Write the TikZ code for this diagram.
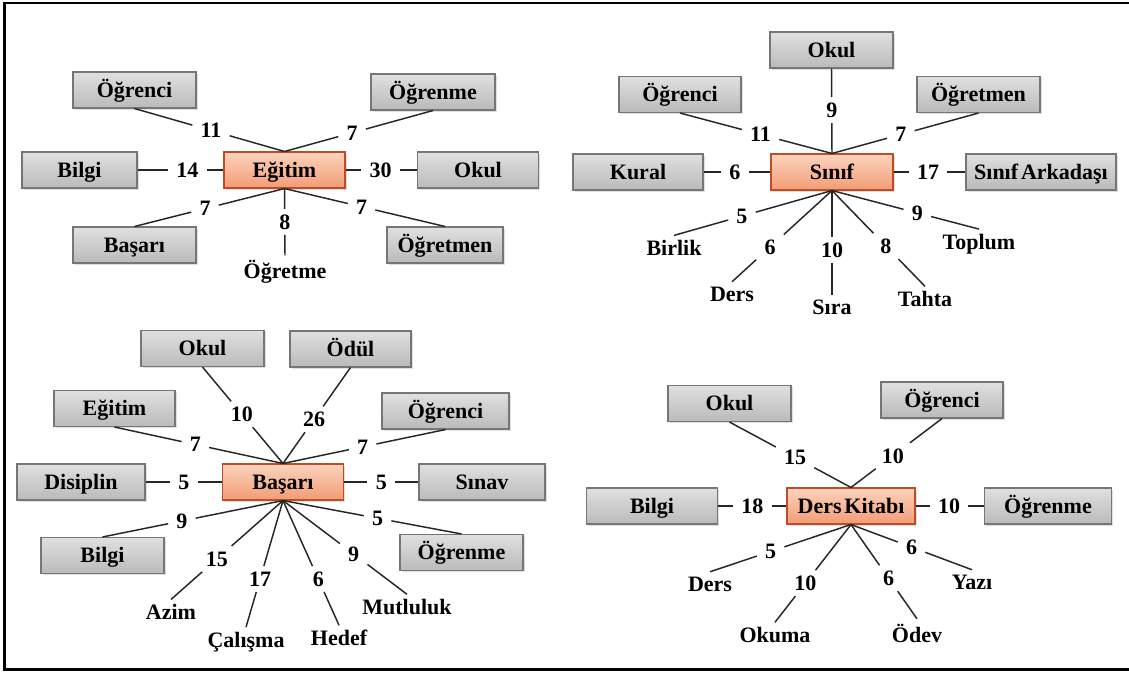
\documentclass[tikz,border=0pt]{standalone}
\usepackage{fontspec}
\setmainfont{Liberation Serif}
\usetikzlibrary{shadows}
\definecolor{gtop}{RGB}{224,224,224}
\definecolor{gbot}{RGB}{186,186,186}
\definecolor{gbrd}{RGB}{118,118,118}
\definecolor{otop}{RGB}{251,212,190}
\definecolor{obot}{RGB}{242,156,116}
\definecolor{obrd}{RGB}{190,76,40}
\newcommand\linkto[5]{\path (#1) -- (#2) node[num,pos=#3] (#4) {#5};\draw[ln] (#1) -- (#4) -- (#2);}
\begin{document}
\begin{tikzpicture}[x=0.75pt,y=-0.75pt,
 every node/.style={font=\fontsize{16.5}{19}\selectfont\bfseries},
 gbox/.style={draw=gbrd, line width=0.8pt, top color=gtop, bottom color=gbot, minimum width=92.25pt, minimum height=27pt, inner sep=1pt, text height=12.6pt, text depth=1.8pt, drop shadow={opacity=0.25,shadow xshift=1.2pt,shadow yshift=-1.2pt}},
 obox/.style={draw=obrd, line width=0.8pt, top color=otop, bottom color=obot, minimum width=91pt, minimum height=27pt, inner sep=1pt, text height=12.6pt, text depth=1.8pt, drop shadow={opacity=0.25,shadow xshift=1.2pt,shadow yshift=-1.2pt}},
 num/.style={inner xsep=6pt, inner ysep=4pt, text height=11pt, text depth=0pt},
 lbl/.style={inner sep=3.5pt},
 ln/.style={line width=1.1pt, black!85}]
\useasboundingbox (0,0) rectangle (1129,672);
\draw[line width=2pt] (1129,3) -- (4.5,3) -- (4.5,669.5) -- (1129,669.5);
% Panel 1
\node[obox, minimum width=90.75pt] (E) at (284.5,170) {Eğitim};
\node[gbox] (e1) at (134.5,90) {Öğrenci};
\node[gbox, minimum width=93pt] (e2) at (433,92) {Öğrenme};
\node[gbox, minimum width=86.25pt] (e3) at (79.5,170) {Bilgi};
\node[gbox, minimum width=90.75pt] (e4) at (478,170) {Okul};
\node[gbox] (e5) at (134.5,245) {Başarı};
\node[gbox, minimum width=87pt] (e6) at (445,245) {Öğretmen};
\node[lbl] (e7) at (285,272) {Öğretme};
\linkto{E.north}{e1.south}{.49}{m1}{11}
\linkto{E.north}{e2.south}{.455}{m2}{7}
\linkto{E.west}{e3.east}{.42}{m3}{14}
\linkto{E.east}{e4.west}{.49}{m4}{30}
\linkto{E.south}{e5.north}{.53}{m5}{7}
\linkto{E.south}{e7.north}{.5}{m6}{8}
\linkto{E.south}{e6.north}{.48}{m7}{7}
% Panel 2
\node[obox, minimum width=91.5pt] (S) at (832,172) {Sınıf};
\node[gbox] (s1) at (831.5,50) {Okul};
\node[gbox, minimum width=91.5pt] (s2) at (680,94.5) {Öğrenci};
\node[gbox] (s3) at (978.5,94.5) {Öğretmen};
\node[gbox, minimum width=97.5pt] (s4) at (638,172) {Kural};
\node[gbox, minimum width=112.5pt] (s5) at (1041,172) {Sınıf\hspace{-0.12em} Arkadaşı};
\node[lbl] (s6) at (674,248) {Birlik};
\node[lbl] (s7) at (732,294) {Ders};
\node[lbl] (s8) at (832,307) {Sıra};
\node[lbl] (s9) at (925,299) {Tahta};
\node[lbl] (s10) at (979,244) {Toplum};
\linkto{S.north}{s1.south}{.51}{p1}{9}
\linkto{S.north}{s2.south}{.47}{p2}{11}
\linkto{S.north}{s3.south}{.47}{p3}{7}
\linkto{S.west}{s4.east}{.53}{p4}{6}
\linkto{S.east}{s5.west}{.48}{p5}{17}
\linkto{S.south}{s6.north}{.57}{p6}{5}
\linkto{S.south}{s7.north}{.62}{p7}{6}
\linkto{S.south}{s8.north}{.57}{p8}{10}
\linkto{S.south}{s9.north}{.58}{p9}{8}
\linkto{S.south}{s10.north}{.58}{p10}{9}
% Panel 3
\node[obox, minimum width=90.75pt] (B) at (283,482) {Başarı};
\node[gbox] (b1) at (202.5,348.5) {Okul};
\node[gbox, minimum width=90.75pt] (b2) at (350.5,349) {Ödül};
\node[gbox, minimum width=90.75pt] (b3) at (114.5,408.5) {Eğitim};
\node[gbox, minimum width=95.25pt] (b4) at (445.5,411) {Öğrenci};
\node[gbox, minimum width=96pt] (b5) at (81,482) {Disiplin};
\node[gbox, minimum width=94.5pt] (b6) at (482,482) {Sınav};
\node[gbox] (b7) at (102.5,555.5) {Bilgi};
\node[gbox] (b8) at (461.5,552.5) {Öğrenme};
\node[lbl] (b9) at (171,612) {Azim};
\node[lbl] (b10) at (246,642) {Çalışma};
\node[lbl] (b11) at (339,638) {Hedef};
\node[lbl] (b12) at (407,607) {Mutluluk};
\linkto{B.north}{b1.south}{.51}{q1}{10}
\linkto{B.north}{b2.south}{.46}{q2}{26}
\linkto{B.north}{b3.south}{.52}{q3}{7}
\linkto{B.north}{b4.south}{.49}{q4}{7}
\linkto{B.west}{b5.east}{.5}{q5}{5}
\linkto{B.east}{b6.west}{.5}{q6}{5}
\linkto{B.south}{b7.north}{.56}{q7}{9}
\linkto{B.south}{b8.north}{.53}{q8}{5}
\linkto{B.south}{b9.north}{.59}{q9}{15}
\linkto{B.south}{b10.north}{.62}{q10}{17}
\linkto{B.south}{b11.north}{.63}{q11}{6}
\linkto{B.south}{b12.north}{.57}{q12}{9}
% Panel 4
\node[obox, minimum width=96pt] (D) at (851,506) {Ders\hspace{-0.12em} Kitabı};
\node[gbox] (d1) at (729.5,403.5) {Okul};
\node[gbox, minimum width=91.5pt] (d2) at (942,400) {Öğrenci};
\node[gbox, minimum width=98.25pt] (d3) at (652,506) {Bilgi};
\node[gbox, minimum width=95.25pt] (d4) at (1048,506) {Öğrenme};
\node[lbl] (d5) at (710,584) {Ders};
\node[lbl] (d6) at (775,635) {Okuma};
\node[lbl] (d7) at (917,633) {Ödev};
\node[lbl] (d8) at (972,582) {Yazı};
\linkto{D.north}{d1.south}{.46}{r1}{15}
\linkto{D.north}{d2.south}{.46}{r2}{10}
\linkto{D.west}{d3.east}{.5}{r3}{18}
\linkto{D.east}{d4.west}{.49}{r4}{10}
\linkto{D.south}{d5.north}{.57}{r5}{5}
\linkto{D.south}{d6.north}{.6}{r6}{10}
\linkto{D.south}{d7.north}{.57}{r7}{6}
\linkto{D.south}{d8.north}{.5}{r8}{6}
\end{tikzpicture}
\end{document}
